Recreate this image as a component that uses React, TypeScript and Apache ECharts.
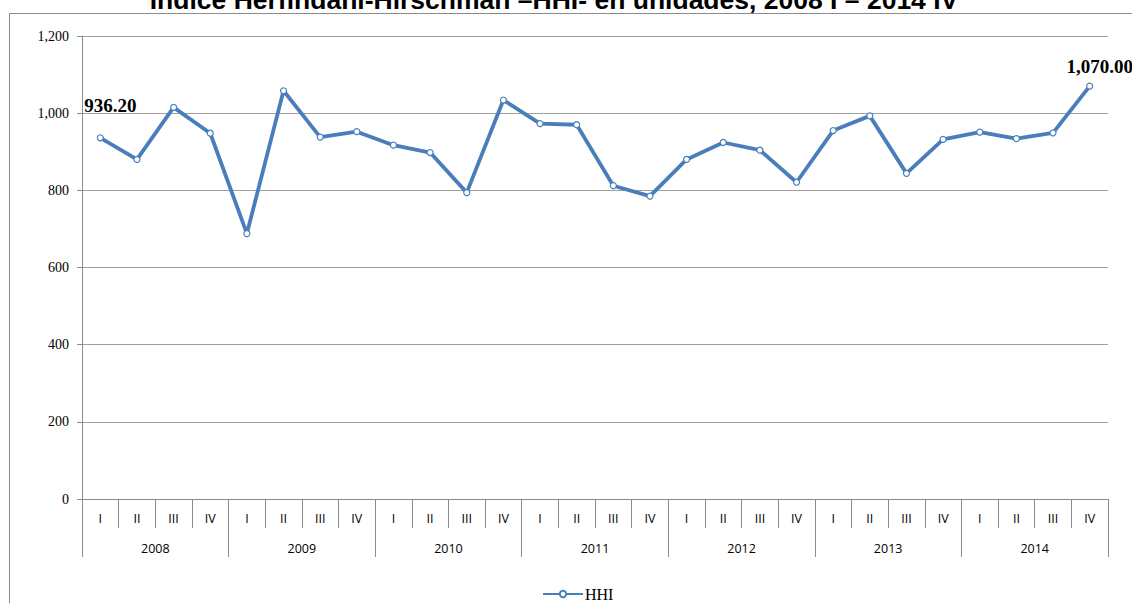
import React, { useEffect, useRef } from "react";
import * as echarts from "echarts";

const quarters = ["I", "II", "III", "IV", "I", "II", "III", "IV", "I", "II", "III", "IV", "I", "II", "III", "IV", "I", "II", "III", "IV", "I", "II", "III", "IV", "I", "II", "III", "IV"];
const years = ["2008", "2009", "2010", "2011", "2012", "2013", "2014"];
const hhi = [936.2, 880, 1015, 948, 688, 1058, 938, 952, 917, 898, 794, 1034, 973, 970, 812, 785, 880, 924, 904, 821, 955, 993, 844, 932, 951, 934, 949, 1070.0];
const yTicks = { min: 0, max: 1200, interval: 200 };
const titleText = "Índice Herfindahl-Hirschman –HHI- en unidades, 2008 I – 2014 IV";
const seriesName = "HHI";

const BLUE = "#4a7ebb";
const GRAY = "#8c8c8c";

export default function App() {
  const ref = useRef<HTMLDivElement>(null);
  useEffect(() => {
    if (!ref.current) return;
    const chart = echarts.init(ref.current, null, { renderer: "svg" });
    const fmt = (v: number) =>
      v.toLocaleString("en-US", { minimumFractionDigits: 2, maximumFractionDigits: 2 });
    const labelStyle = {
      show: true,
      position: "top",
      fontFamily: "Liberation Serif",
      fontWeight: "bold",
      fontSize: 19,
      color: "#000",
      formatter: (p: any) => fmt(p.value),
    };
    const data = hhi.map((v, i) => {
      if (i === 0) return { value: v, label: { ...labelStyle, offset: [10, -14] } };
      if (i === hhi.length - 1) return { value: v, label: { ...labelStyle, offset: [10, -2] } };
      return v;
    });
    chart.setOption({
      animation: false,
      backgroundColor: "#fff",
      graphic: [
        {
          type: "rect",
          shape: { x: 9.5, y: 13.5, width: 1200, height: 700 },
          style: { fill: "none", stroke: GRAY, lineWidth: 1 },
          silent: true,
        },
        {
          type: "text",
          x: 554,
          y: 13,
          style: {
            text: titleText,
            fontFamily: "Liberation Sans",
            fontWeight: "bold",
            fontSize: 26.5,
            fill: "#000",
            align: "center",
            verticalAlign: "bottom",
          },
          silent: true,
        },
      ],
      legend: {
        data: [seriesName],
        left: 537,
        top: 581,
        itemWidth: 40,
        itemHeight: 8,
        textStyle: { fontFamily: "Liberation Serif", fontSize: 16, color: "#000", padding: [0, 0, 0, -3] },
      },
      grid: { left: 82, right: 24, top: 36, bottom: 104, containLabel: false },
      xAxis: [
        {
          type: "category",
          data: quarters,
          position: "bottom",
          axisLine: { show: true, lineStyle: { color: GRAY, width: 1 } },
          axisTick: { show: true, interval: 0, length: 29, lineStyle: { color: GRAY } },
          axisLabel: { interval: 0, margin: 13, fontFamily: "Open Sans", fontSize: 12.5, color: "#000" },
          splitLine: { show: false },
        },
        {
          type: "category",
          data: years,
          position: "bottom",
          axisLine: { show: false },
          axisTick: { show: true, interval: 0, length: 58, lineStyle: { color: GRAY } },
          axisLabel: { interval: 0, margin: 43, fontFamily: "Open Sans", fontSize: 12.5, color: "#000" },
          splitLine: { show: false },
        },
      ],
      yAxis: {
        type: "value",
        min: yTicks.min,
        max: yTicks.max,
        interval: yTicks.interval,
        axisLine: { show: true, lineStyle: { color: GRAY, width: 1 } },
        axisTick: { show: true, length: 5, lineStyle: { color: GRAY } },
        axisLabel: {
          margin: 13,
          fontFamily: "Liberation Serif",
          fontSize: 14,
          color: "#000",
          formatter: (v: number) => v.toLocaleString("en-US"),
        },
        splitLine: { show: true, lineStyle: { color: "#a0a0a0", width: 1 } },
      },
      series: [
        {
          name: seriesName,
          type: "line",
          xAxisIndex: 0,
          data,
          symbol: "circle",
          symbolSize: 6,
          lineStyle: { color: BLUE, width: 3.8 },
          itemStyle: { color: "#fff", borderColor: BLUE, borderWidth: 1.2 },
          label: { show: false },
          emphasis: { disabled: true },
        },
      ],
    });
    return () => chart.dispose();
  }, []);
  return (
    <div
      ref={ref}
      style={{ position: "absolute", left: 0, top: 0, width: 1132, height: 603 }}
    />
  );
}
